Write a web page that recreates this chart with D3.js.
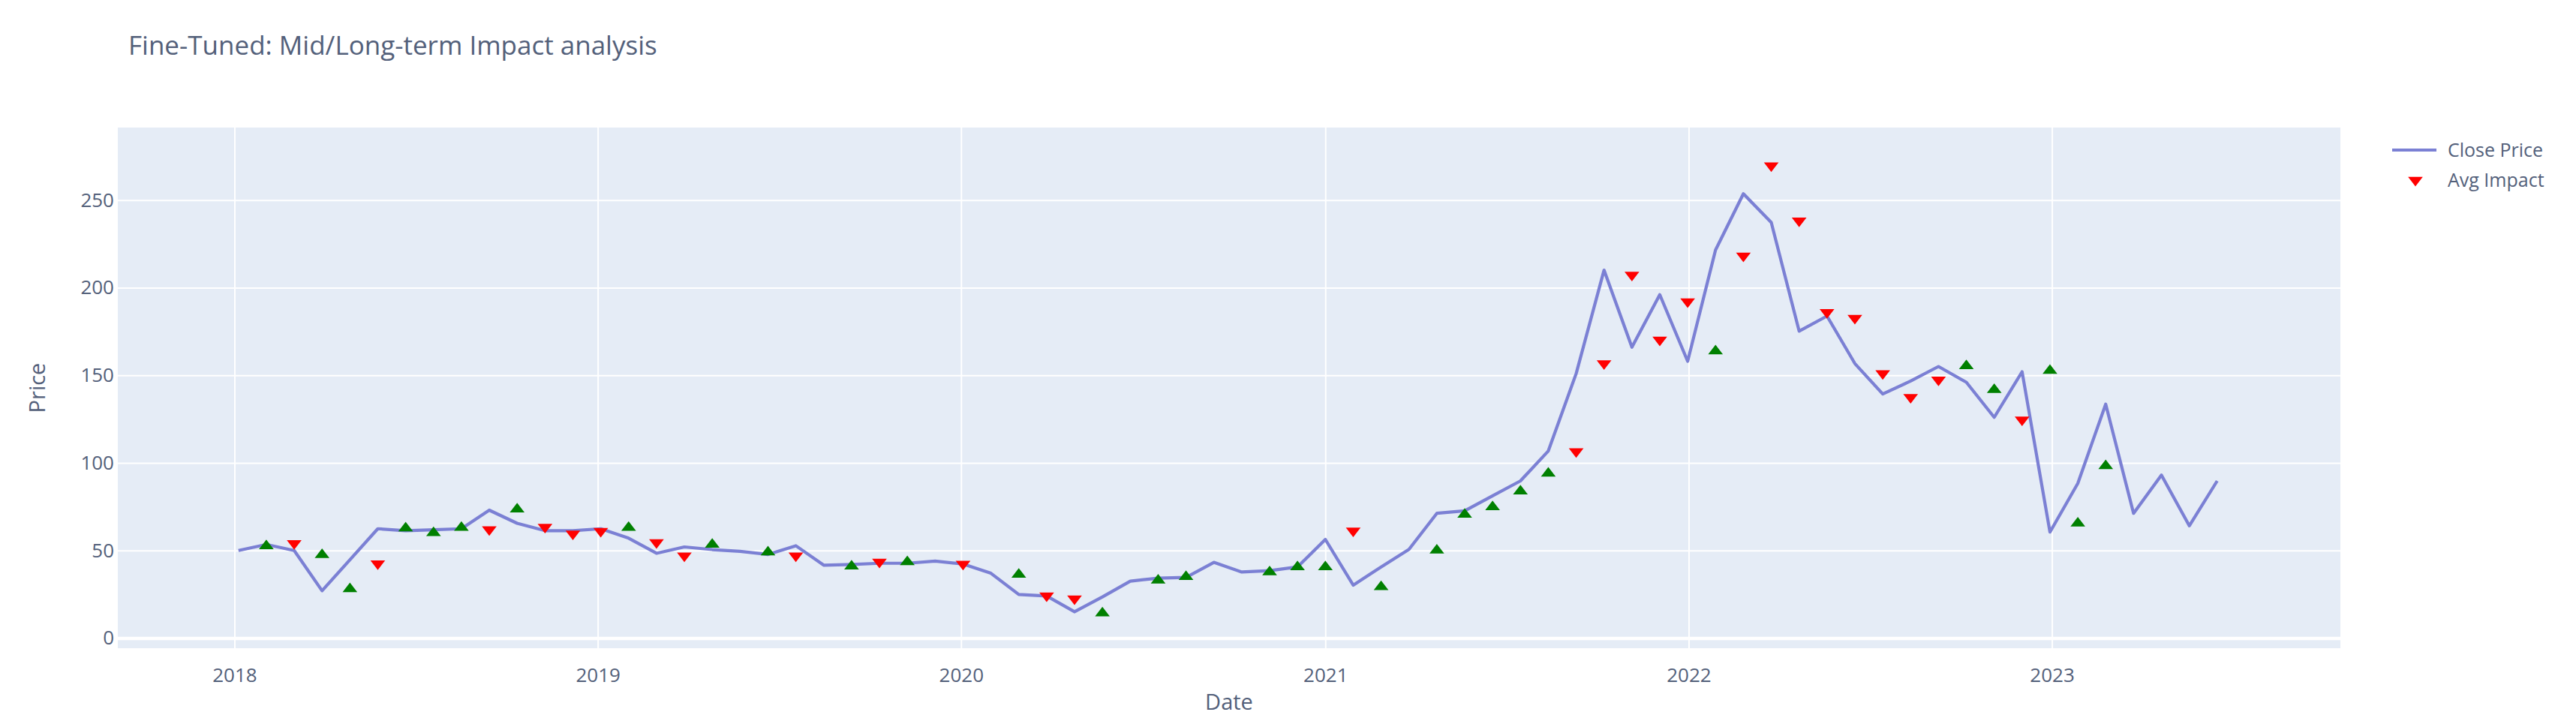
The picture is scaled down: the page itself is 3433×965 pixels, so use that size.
<!DOCTYPE html>
<html>
<head>
<meta charset="utf-8">
<script src="https://cdn.jsdelivr.net/npm/d3@7"></script>
<style>
  html, body { margin: 0; padding: 0; background: #ffffff; }
  svg { display: block; }
  text { font-family: "Open Sans", "Noto Sans", sans-serif; }
</style>
</head>
<body>
<svg id="chart" width="3433" height="965"></svg>
<script>
// ---------------- data ----------------
const dates = [
  "2018-01-05","2018-02-02","2018-03-02","2018-03-30","2018-04-27","2018-05-25","2018-06-22","2018-07-20",
  "2018-08-17","2018-09-14","2018-10-12","2018-11-09","2018-12-07","2019-01-04","2019-02-01","2019-03-01",
  "2019-03-29","2019-04-26","2019-05-24","2019-06-21","2019-07-19","2019-08-16","2019-09-13","2019-10-11",
  "2019-11-08","2019-12-06","2020-01-03","2020-01-31","2020-02-28","2020-03-27","2020-04-24","2020-05-22",
  "2020-06-19","2020-07-17","2020-08-14","2020-09-11","2020-10-09","2020-11-06","2020-12-04","2021-01-01",
  "2021-01-29","2021-02-26","2021-03-26","2021-04-23","2021-05-21","2021-06-18","2021-07-16","2021-08-13",
  "2021-09-10","2021-10-08","2021-11-05","2021-12-03","2021-12-31","2022-01-28","2022-02-25","2022-03-25",
  "2022-04-22","2022-05-20","2022-06-17","2022-07-15","2022-08-12","2022-09-09","2022-10-07","2022-11-04",
  "2022-12-02","2022-12-30","2023-01-27","2023-02-24","2023-03-24","2023-04-21","2023-05-19","2023-06-16"
];

const closePrice = [
  50, 53.4, 50, 27, 44.7, 62.4, 61.3, 61.8,
  62.4, 73, 65.5, 61.3, 61.3, 62.4, 57, 48.4,
  52, 50.5, 49.5, 47.7, 52.7, 41.6, 42, 42.7,
  42.7, 43.9, 42.3, 37, 24.9, 24, 15, 23.5,
  32.5, 34.2, 34.6, 43.2, 37.7, 38.5, 40.6, 56.3,
  30.2, 40.6, 50.6, 71.2, 72.6, 81.2, 89.7, 106.8,
  151, 210, 166, 196, 158, 221.5, 253.6, 237.2,
  175.2, 183.8, 156.7, 139.3, 146.7, 155, 146, 126,
  152, 60.5, 88.3, 133.5, 71.2, 93, 64.1, 89.7
];

// Avg Impact marker values (null = no marker at that date)
const avgImpact = [
  null, 52.5, 54, 47.5, 28, 42.5, 62.7, 60,
  63, 62, 73.5, 63.4, 59.5, 61, 63, 54.6,
  47, 53.4, null, 49, 47, null, 41, 43.4,
  43.4, null, 42.3, null, 36.3, 24.2, 22.5, 14.2,
  null, 33, 35, null, null, 37.7, 40.6, 40.6,
  61.2, 29.2, null, 50.1, 70.5, 74.8, 83.8, 94,
  106.5, 156.7, 207.3, 170.2, 192, 163.8, 218.2, 269.7,
  238.2, 185.9, 182.6, 151, 137.5, 147.4, 155.3, 141.7,
  124.6, 152.7, 65.5, 98.3, null, null, null, null
];

// impact direction: "up" = green triangle-up, "down" = red triangle-down
const impactDirection = [
  null, "up", "down", "up", "up", "down", "up", "up",
  "up", "down", "up", "down", "down", "down", "up", "down",
  "down", "up", null, "up", "down", null, "up", "down",
  "up", null, "down", null, "up", "down", "down", "up",
  null, "up", "up", null, null, "up", "up", "up",
  "down", "up", null, "up", "up", "up", "up", "up",
  "down", "down", "down", "down", "down", "up", "down", "down",
  "down", "down", "down", "down", "down", "down", "up", "up",
  "down", "up", "up", "up", null, null, null, null
];

const yTicks = [0, 50, 100, 150, 200, 250];
const xTickYears = ["2018", "2019", "2020", "2021", "2022", "2023"];

const titleText = "Fine-Tuned: Mid/Long-term Impact analysis";
const xTitle = "Date";
const yTitle = "Price";
const legendLabels = ["Close Price", "Avg Impact"];

// ---------------- layout ----------------
const plot = { left: 157, right: 3119, top: 170, bottom: 864 };
const textColor = "#53607a";
const lineColor = "#7b80d4";
const bg = "#e5ecf6";

const parse = d3.utcParse("%Y-%m-%d");
const parsedDates = dates.map(parse);

const x = d3.scaleUtc()
  .domain([Date.UTC(2017, 8, 5, 19), Date.UTC(2023, 9, 17, 19)])
  .range([plot.left, plot.right]);
const y = d3.scaleLinear()
  .domain([-5.8, 291.4])
  .range([plot.bottom, plot.top]);

const svg = d3.select("#chart");

// plot background
svg.append("rect")
  .attr("x", plot.left).attr("y", plot.top)
  .attr("width", plot.right - plot.left)
  .attr("height", plot.bottom - plot.top)
  .attr("fill", bg);

const xTickDates = xTickYears.map(yv => new Date(Date.UTC(+yv, 0, 1)));

// vertical grid
const xGrid = svg.append("g")
  .attr("transform", `translate(0,${plot.bottom})`)
  .call(d3.axisBottom(x).tickValues(xTickDates).tickSize(-(plot.bottom - plot.top)).tickFormat(""));
xGrid.select(".domain").remove();
xGrid.selectAll("line").attr("stroke", "#ffffff").attr("stroke-width", 2);

// horizontal grid
const yGrid = svg.append("g")
  .attr("transform", `translate(${plot.left},0)`)
  .call(d3.axisLeft(y).tickValues(yTicks).tickSize(-(plot.right - plot.left)).tickFormat(""));
yGrid.select(".domain").remove();
yGrid.selectAll("line")
  .attr("stroke", "#ffffff")
  .attr("stroke-width", d => d === 0 ? 4.5 : 2);

// x axis labels
const xAxis = svg.append("g")
  .attr("transform", `translate(0,${plot.bottom})`)
  .call(d3.axisBottom(x).tickValues(xTickDates).tickSize(0).tickPadding(27)
    .tickFormat(d3.utcFormat("%Y")));
xAxis.select(".domain").remove();
xAxis.selectAll("text")
  .attr("fill", textColor)
  .style("font-size", "26px")
  .style("font-family", '"Open Sans", sans-serif');

// y axis labels
const yAxis = svg.append("g")
  .attr("transform", `translate(${plot.left},0)`)
  .call(d3.axisLeft(y).tickValues(yTicks).tickSize(0).tickPadding(5));
yAxis.select(".domain").remove();
yAxis.selectAll("text")
  .attr("fill", textColor)
  .style("font-size", "26px")
  .style("font-family", '"Open Sans", sans-serif');

// close price line
const line = d3.line()
  .x((d, i) => x(parsedDates[i]))
  .y(d => y(d));
svg.append("path")
  .datum(closePrice)
  .attr("fill", "none")
  .attr("stroke", lineColor)
  .attr("stroke-width", 4.2)
  .attr("stroke-linejoin", "round")
  .attr("d", line);

// triangle path generator (plotly-style)
function triPath(dir, r) {
  const rt = r * 2 / Math.sqrt(3), r2 = r / 2;
  return dir === "up"
    ? `M${-rt},${r2}H${rt}L0,${-r}Z`
    : `M${-rt},${-r2}H${rt}L0,${r}Z`;
}

const impactPts = avgImpact
  .map((v, i) => ({ v, i, dir: impactDirection[i] }))
  .filter(d => d.v !== null);

svg.append("g").selectAll("path")
  .data(impactPts)
  .join("path")
  .attr("transform", d => `translate(${x(parsedDates[d.i])},${y(d.v)})`)
  .attr("d", d => triPath(d.dir, 8.5))
  .attr("fill", d => d.dir === "up" ? "green" : "red");

// title
svg.append("text")
  .attr("x", 171).attr("y", 73)
  .attr("fill", textColor)
  .style("font-size", "35px")
  .text(titleText);

// axis titles
svg.append("text")
  .attr("x", (plot.left + plot.right) / 2).attr("y", 946)
  .attr("text-anchor", "middle")
  .attr("fill", textColor)
  .style("font-size", "29px")
  .text(xTitle);

svg.append("text")
  .attr("transform", `translate(60,${(plot.top + plot.bottom) / 2}) rotate(-90)`)
  .attr("text-anchor", "middle")
  .attr("fill", textColor)
  .style("font-size", "29px")
  .text(yTitle);

// legend
const lg = svg.append("g");
lg.append("line")
  .attr("x1", 3188).attr("x2", 3247)
  .attr("y1", 200).attr("y2", 200)
  .attr("stroke", lineColor).attr("stroke-width", 4.2);
lg.append("text")
  .attr("x", 3262).attr("y", 200).attr("dy", "0.35em")
  .attr("fill", textColor).style("font-size", "25px")
  .text(legendLabels[0]);
lg.append("path")
  .attr("transform", "translate(3219,240)")
  .attr("d", triPath("down", 8.5))
  .attr("fill", "red");
lg.append("text")
  .attr("x", 3262).attr("y", 240).attr("dy", "0.35em")
  .attr("fill", textColor).style("font-size", "25px")
  .text(legendLabels[1]);
</script>
</body>
</html>
